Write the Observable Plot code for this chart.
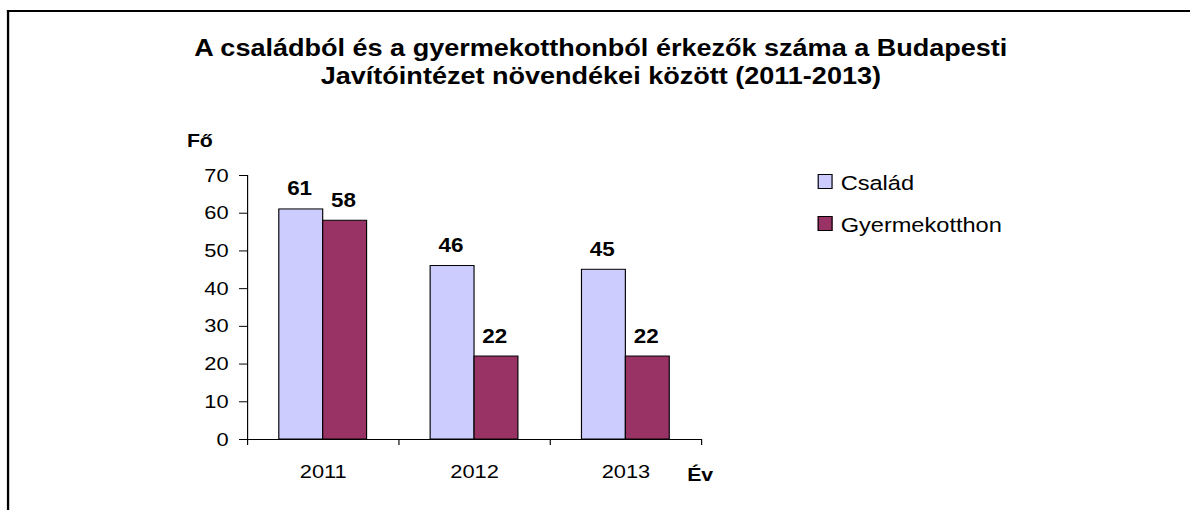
<!DOCTYPE html>
<html>
<head>
<meta charset="utf-8">
<script src="https://cdn.jsdelivr.net/npm/d3@7"></script>
<script src="https://cdn.jsdelivr.net/npm/@observablehq/plot@0.6"></script>
<style>
  html, body { margin: 0; padding: 0; background: #fff; overflow: hidden; width: 1190px; height: 510px; }
  #wrap { position: absolute; left: 0; top: 0; width: 1035px; height: 510px; overflow: hidden; font-family: "Liberation Sans", Arial, sans-serif; color: #000; transform: scaleX(1.15); transform-origin: 0 0; }
  #frame { position: absolute; left: 6px; top: 10px; width: 1400px; height: 700px; border-top: 2px solid #000; border-left: 2px solid #000; box-sizing: border-box; }
  #title { position: absolute; left: 0; width: 1045px; top: 34px; text-align: center; font-weight: bold; font-size: 23.5px; line-height: 28px; white-space: nowrap; }
  .lbl { position: absolute; font-weight: bold; font-size: 18.5px; line-height: 18.5px; white-space: nowrap; }
  #chart { position: absolute; left: 0; top: 0; }
  #legend { position: absolute; left: 711px; top: 173px; font-size: 20.5px; line-height: 20.5px; }
  .item { position: relative; height: 42px; white-space: nowrap; }
  .sw { position: absolute; left: 0; top: 1px; width: 12.5px; height: 15px; border: 1px solid #000; box-sizing: border-box; }
  .txt { position: absolute; left: 20px; top: 0; }
</style>
</head>
<body>
<div id="wrap">
  <div id="frame"></div>
  <div id="title">A családból és a gyermekotthonból érkezők száma a Budapesti<br>Javítóintézet növendékei között (2011-2013)</div>
  <div id="chart"></div>
  <div class="lbl" id="ylab" style="left:162.5px; top:131.5px;">Fő</div>
  <div class="lbl" id="xlab" style="left:597.5px; top:466px;">Év</div>
  <div id="legend"></div>
</div>
<script>
const years = ["2011", "2012", "2013"];
const csalad = [61, 46, 45];
const gyermekotthon = [58, 22, 22];
const seriesNames = ["Család", "Gyermekotthon"];
const seriesColors = ["#CCCCFF", "#993366"];
const yTicks = [0, 10, 20, 30, 40, 50, 60, 70];

const seriesValues = [csalad, gyermekotthon];
const rows = [];
years.forEach((yr, i) => {
  seriesNames.forEach((s, k) => rows.push({year: yr, i, k, s, v: seriesValues[k][i]}));
});

const bw = 0.29; // bar width as fraction of a category band
const x1 = d => d.i + 0.5 + (d.k === 0 ? -bw : 0);
const x2 = d => x1(d) + bw;
const xc = d => x1(d) + bw / 2;

const chart = Plot.plot({
  width: 1035,
  height: 510,
  marginLeft: 214.8,
  marginRight: 425.4,
  marginTop: 175,
  marginBottom: 71,
  x: {domain: [0, years.length]},
  y: {domain: [0, 70]},
  color: {domain: seriesNames, range: seriesColors},
  style: {fontFamily: "'Liberation Sans', Arial, sans-serif", fontSize: "19px", color: "#000", background: "transparent"},
  marks: [
    Plot.rectY(rows, {x1, x2, y: "v", fill: "s", stroke: "#000", strokeWidth: 1}),
    Plot.ruleY([0], {stroke: "#000"}),
    Plot.ruleX([0], {y1: 0, y2: 70, stroke: "#000"}),
    Plot.axisY({ticks: yTicks, tickSize: 7, tickPadding: 9.5, label: null, fontSize: 19}),
    Plot.axisX({ticks: d3.range(years.length + 1), tickSize: 6, tickFormat: () => "", label: null}),
    Plot.axisX({ticks: years.map((_, i) => i + 0.5), tickSize: 0, tickPadding: 25, tickFormat: d => years[Math.floor(d)], label: null, fontSize: 19}),
    Plot.text(rows, {x: xc, y: "v", text: d => String(d.v), dx: -1.5, dy: -14, lineAnchor: "bottom", fontWeight: "bold", fontSize: 19.5})
  ]
});
document.getElementById("chart").appendChild(chart);

const legend = document.getElementById("legend");
seriesNames.forEach((s, k) => {
  const item = document.createElement("div");
  item.className = "item";
  const sw = document.createElement("div");
  sw.className = "sw";
  sw.style.background = seriesColors[k];
  const t = document.createElement("div");
  t.className = "txt";
  t.textContent = s;
  item.appendChild(sw);
  item.appendChild(t);
  legend.appendChild(item);
});
</script>
</body>
</html>
